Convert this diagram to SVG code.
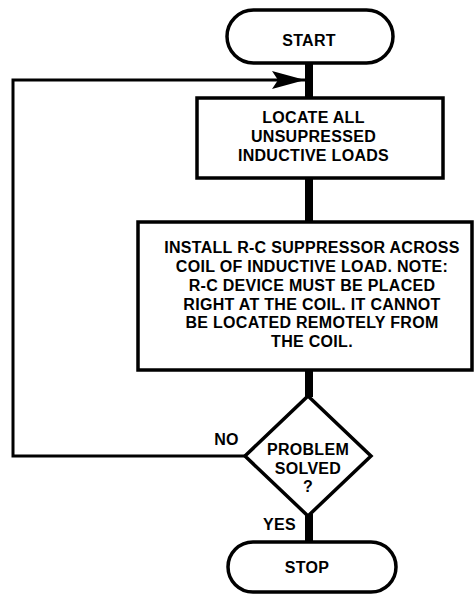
<svg xmlns="http://www.w3.org/2000/svg" width="475" height="596" viewBox="0 0 475 596">
<style>
.box{fill:#fff;stroke:#000;stroke-width:3.5}
.t{font-family:"Liberation Sans",Arial,sans-serif;font-weight:bold;font-size:16px;letter-spacing:0.3px;fill:#000;text-anchor:middle}
.flow{stroke:#000;stroke-width:8;fill:none}
.fb{stroke:#000;stroke-width:3;fill:none}
</style>
<defs>
<marker id="ah" markerUnits="userSpaceOnUse" markerWidth="34" markerHeight="18" refX="33" refY="9" orient="auto">
<path d="M0,0 L33,9 L0,18 L6,9 Z" fill="#000"/>
</marker>
</defs>
<g id="connectors">
<line class="flow" x1="309" y1="62" x2="309" y2="99"/>
<line class="flow" x1="309" y1="176" x2="309" y2="223"/>
<line class="flow" x1="309" y1="369" x2="309" y2="397"/>
<line class="flow" x1="309" y1="514" x2="309" y2="543"/>
<polyline class="fb" points="246,456 13,456 13,80 305,80" marker-end="url(#ah)"/>
<text class="t" x="226.5" y="445">NO</text>
<text class="t" x="279.5" y="530">YES</text>
</g>
<g id="start">
<rect class="box" x="227" y="10" width="166" height="53" rx="26.5"/>
<text class="t" x="309" y="46">START</text>
</g>
<g id="locate">
<rect class="box" x="197" y="98" width="246" height="80"/>
<text class="t" x="313.5" y="123">LOCATE ALL</text>
<text class="t" x="313.5" y="142">UNSUPRESSED</text>
<text class="t" x="313.5" y="161">INDUCTIVE LOADS</text>
</g>
<g id="install">
<rect class="box" x="138" y="222" width="334" height="148"/>
<text class="t" x="312" y="253">INSTALL R-C SUPPRESSOR ACROSS</text>
<text class="t" x="312" y="272">COIL OF INDUCTIVE LOAD. NOTE:</text>
<text class="t" x="312" y="291">R-C DEVICE MUST BE PLACED</text>
<text class="t" x="312" y="310">RIGHT AT THE COIL. IT CANNOT</text>
<text class="t" x="312" y="328">BE LOCATED REMOTELY FROM</text>
<text class="t" x="312" y="347">THE COIL.</text>
</g>
<g id="decision">
<polygon class="box" points="308,396 371,456 308,516 245,456"/>
<text class="t" x="308" y="455">PROBLEM</text>
<text class="t" x="308" y="474">SOLVED</text>
<text class="t" x="308" y="492">?</text>
</g>
<g id="stop">
<rect class="box" x="228" y="542" width="168" height="50" rx="25"/>
<text class="t" x="307" y="573">STOP</text>
</g>
</svg>
